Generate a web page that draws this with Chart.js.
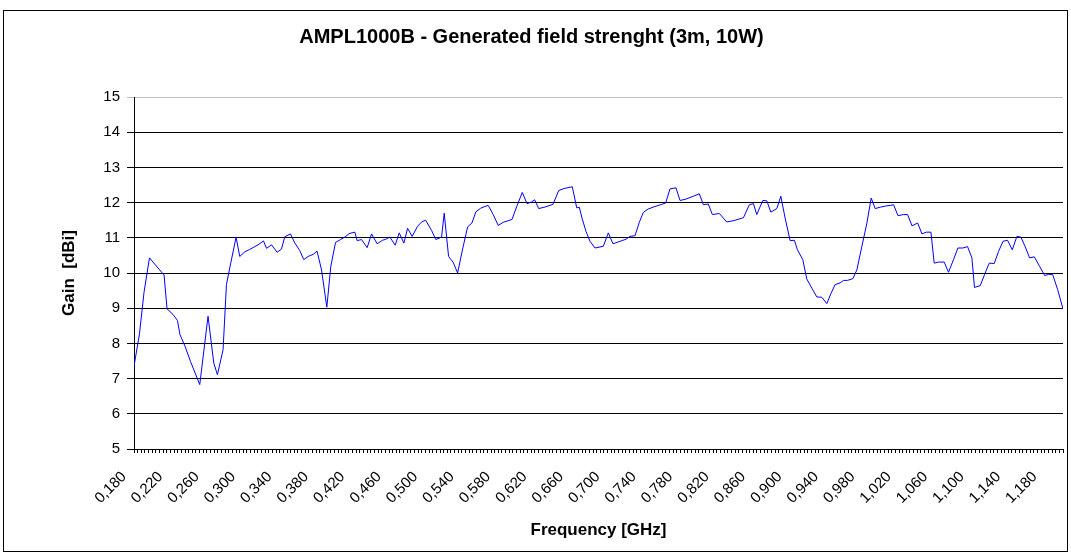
<!DOCTYPE html>
<html>
<head>
<meta charset="utf-8">
<script src="https://cdn.jsdelivr.net/npm/chart.js@4/dist/chart.umd.min.js"></script>
<style>
  html, body { margin: 0; padding: 0; background: #fff; }
  canvas { display: block; }
</style>
</head>
<body>
<canvas id="fieldChart" width="1071" height="556"></canvas>
<script>
// data (frequency in GHz, gain in dBi)
const freq = [
  0.180, 0.186, 0.191, 0.197, 0.212, 0.213, 0.2163, 0.2229, 0.2277, 0.2305,
  0.236, 0.242, 0.2522, 0.2613, 0.2676, 0.2716, 0.2778, 0.2815, 0.2862, 0.2921,
  0.2961, 0.3016, 0.3071, 0.3162, 0.3222, 0.3255, 0.331, 0.3371, 0.3419, 0.3456,
  0.3518, 0.3566, 0.362, 0.3664, 0.3712, 0.3767, 0.381, 0.3859, 0.3917, 0.3961,
  0.4013, 0.4068, 0.4115, 0.4162, 0.4225, 0.425, 0.4298, 0.436, 0.4408, 0.447,
  0.4529, 0.4565, 0.4609, 0.4668, 0.4712, 0.4763, 0.4804, 0.4854, 0.4914, 0.4958,
  0.5002, 0.5067, 0.5114, 0.5177, 0.5206, 0.5254, 0.5305, 0.5353, 0.5408, 0.5463,
  0.551, 0.5554, 0.5606, 0.5653, 0.5689, 0.5744, 0.5799, 0.5854, 0.595, 0.6001,
  0.6063, 0.6115, 0.6166, 0.6199, 0.6243, 0.632, 0.640, 0.6463, 0.6521, 0.6612,
  0.6661, 0.6689, 0.6719, 0.6763, 0.6807, 0.6862, 0.6953, 0.7008, 0.7059, 0.7136,
  0.7202, 0.7246, 0.7301, 0.7348, 0.7392, 0.7447, 0.7521, 0.7594, 0.7638, 0.7685,
  0.7751, 0.7795, 0.786, 0.7941, 0.8007, 0.8051, 0.8106, 0.815, 0.8227, 0.8308,
  0.8389, 0.8491, 0.8557, 0.8601, 0.8638, 0.8704, 0.8748, 0.8792, 0.8858, 0.8902,
  0.8949, 0.9004, 0.9051, 0.9084, 0.9143, 0.9187, 0.9242, 0.9297, 0.9352, 0.9407,
  0.9451, 0.9498, 0.9553, 0.959, 0.9634, 0.9693, 0.9737, 0.9792, 0.9847, 0.9894,
  0.9938, 0.9993, 1.0048, 1.0103, 1.014, 1.0188, 1.025, 1.0294, 1.0342, 1.0404,
  1.0452, 1.0498, 1.055, 1.0586, 1.0633, 1.0696, 1.0743, 1.0798, 1.0846, 1.0901,
  1.0952, 1.100, 1.1028, 1.1091, 1.1138, 1.119, 1.1245, 1.1292, 1.1341, 1.1391,
  1.1443, 1.1494, 1.1538, 1.1586, 1.1633, 1.1685, 1.1743, 1.1798, 1.1842, 1.1886,
  1.1941, 1.200
];
const gain = [
  7.35, 8.27, 9.45, 10.43, 9.97, 9.95, 8.98, 8.82, 8.65, 8.25,
  7.92, 7.49, 6.83, 8.77, 7.44, 7.11, 7.82, 9.67, 10.28, 11.02,
  10.47, 10.60, 10.67, 10.80, 10.91, 10.70, 10.80, 10.59, 10.68, 11.03,
  11.11, 10.85, 10.64, 10.38, 10.47, 10.53, 10.62, 10.09, 9.03, 10.19,
  10.87, 10.95, 11.02, 11.12, 11.16, 10.92, 10.95, 10.72, 11.11, 10.83,
  10.93, 10.96, 11.02, 10.79, 11.14, 10.85, 11.27, 11.04, 11.33, 11.45,
  11.50, 11.21, 10.95, 11.02, 11.70, 10.47, 10.30, 10.00, 10.68, 11.31,
  11.42, 11.74, 11.84, 11.89, 11.92, 11.66, 11.35, 11.44, 11.52, 11.88,
  12.29, 11.97, 12.02, 12.08, 11.83, 11.88, 11.95, 12.34, 12.40, 12.45,
  11.85, 11.87, 11.56, 11.18, 10.90, 10.71, 10.76, 11.14, 10.83, 10.90,
  10.96, 11.04, 11.06, 11.44, 11.72, 11.82, 11.89, 11.95, 11.99, 12.39,
  12.42, 12.06, 12.10, 12.18, 12.25, 11.94, 11.96, 11.66, 11.69, 11.45,
  11.49, 11.57, 11.94, 11.97, 11.66, 12.06, 12.05, 11.73, 11.83, 12.18,
  11.56, 10.92, 10.93, 10.66, 10.38, 9.83, 9.57, 9.32, 9.31, 9.13,
  9.41, 9.67, 9.72, 9.79, 9.79, 9.84, 10.09, 10.76, 11.42, 12.13,
  11.83, 11.87, 11.90, 11.92, 11.94, 11.63, 11.66, 11.66, 11.34, 11.42,
  11.11, 11.16, 11.16, 10.28, 10.31, 10.31, 10.02, 10.38, 10.71, 10.71,
  10.75, 10.43, 9.59, 9.64, 9.95, 10.28, 10.27, 10.61, 10.90, 10.93,
  10.66, 11.04, 11.02, 10.74, 10.43, 10.46, 10.19, 9.93, 9.96, 9.96,
  9.53, 8.98
];

// axis settings
const freqMin = 0.180;
const freqMax = 1.200;
const freqStep = 0.004;   // one tick mark per measurement step
const labelEvery = 10;    // label every 0.040 GHz
const gainMin = 5;
const gainMax = 15;

const FONT = "'Liberation Sans', Arial, sans-serif";

// white background + outer frame
const framePlugin = {
    id: 'frame',
    beforeDraw(chart) {
        const ctx = chart.ctx;
        ctx.save();
        ctx.fillStyle = '#ffffff';
        ctx.fillRect(0, 0, chart.width, chart.height);
        ctx.restore();
    },
    afterDraw(chart) {
        const ctx = chart.ctx;
        ctx.save();
        ctx.strokeStyle = '#000000';
        ctx.lineWidth = 1;
        ctx.strokeRect(3.5, 10.5, 1064, 541);
        ctx.restore();
    }
};

const ctx = document.getElementById('fieldChart').getContext('2d');
new Chart(ctx, {
    type: 'line',
    data: {
        datasets: [{
            label: 'Gain',
            data: freq.map((f, i) => ({ x: f, y: gain[i] })),
            borderColor: '#0000ff',
            borderWidth: 1,
            pointRadius: 0,
            tension: 0,
            fill: false
        }]
    },
    options: {
        responsive: false,
        animation: false,
        devicePixelRatio: 1,
        layout: { padding: { left: 0, right: 8, top: 0, bottom: 0 } },
        plugins: {
            legend: { display: false },
            tooltip: { enabled: false },
            title: {
                display: true,
                text: 'AMPL1000B - Generated field strenght (3m, 10W)',
                color: '#000',
                font: { family: FONT, size: 20, weight: 'bold' },
                padding: { top: 25.5, bottom: 47.5 }
            }
        },
        scales: {
            x: {
                type: 'linear',
                min: freqMin,
                max: freqMax,
                afterFit(scale) {
                    // keep the plot area fixed, labels may overhang
                    scale.height = 107;
                    scale.paddingLeft = 0;
                    scale.paddingRight = 0;
                },
                border: { display: true, color: '#000', width: 1 },
                grid: {
                    display: true,
                    drawOnChartArea: false,
                    drawTicks: true,
                    tickLength: 4,
                    color: '#000'
                },
                ticks: {
                    stepSize: freqStep,
                    autoSkip: false,
                    minRotation: 45,
                    maxRotation: 45,
                    padding: 15,
                    labelOffset: -10,
                    color: '#000',
                    font: { family: FONT, size: 15 },
                    callback(value) {
                        const idx = Math.round((value - freqMin) / freqStep);
                        if (idx % labelEvery !== 0) return '';
                        return value.toFixed(3).replace('.', ',');
                    }
                },
                title: {
                    display: true,
                    text: 'Frequency [GHz]',
                    color: '#000',
                    font: { family: FONT, size: 17, weight: 'bold' },
                    padding: { top: 0, bottom: 15.8 }
                }
            },
            y: {
                min: gainMin,
                max: gainMax,
                afterFit(scale) { scale.width = 134; },
                border: { display: true, color: '#000', width: 1 },
                grid: {
                    color: (c) => (c.tick && c.tick.value === gainMax) ? '#c0c0c0' : '#000',
                    tickLength: 7
                },
                ticks: {
                    stepSize: 1,
                    padding: 7,
                    color: '#000',
                    font: { family: FONT, size: 15 }
                },
                title: {
                    display: true,
                    text: 'Gain  [dBi]',
                    color: '#000',
                    font: { family: FONT, size: 17, weight: 'bold' },
                    padding: { top: 59.3, bottom: 0 }
                }
            }
        }
    },
    plugins: [framePlugin]
});
</script>
</body>
</html>
